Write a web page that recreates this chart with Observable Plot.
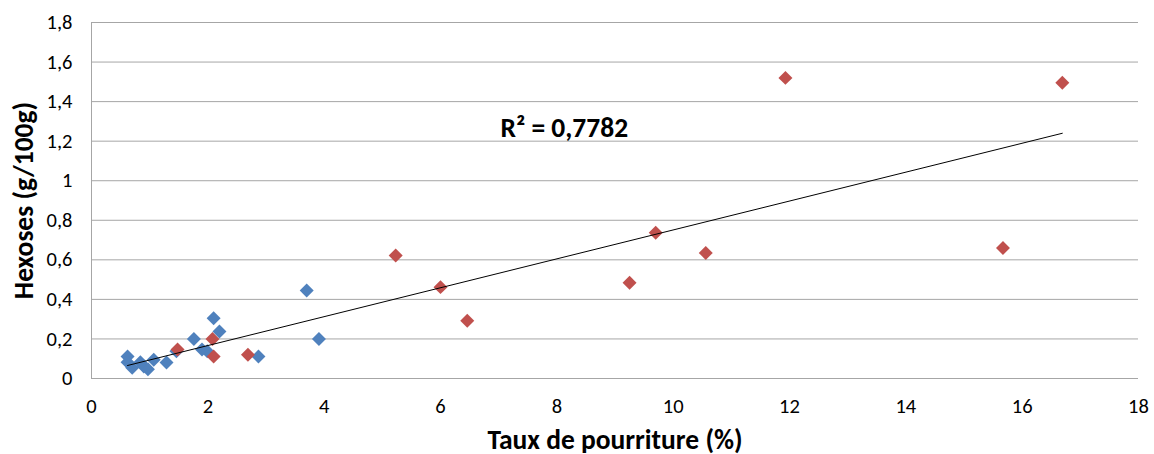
<!DOCTYPE html>
<html>
<head>
<meta charset="utf-8">
<script src="https://cdn.jsdelivr.net/npm/d3@7"></script>
<script src="https://cdn.jsdelivr.net/npm/@observablehq/plot@0.6"></script>
<style>
  html, body { margin: 0; padding: 0; background: #fff; }
  #chart { width: 1154px; height: 454px; }
</style>
</head>
<body>
<div id="chart"></div>
<script>
// Blue series (Taux de pourriture %, Hexoses g/100g)
const blueX = [0.62, 0.62, 0.70, 0.84, 0.90, 0.97, 1.07, 1.29, 1.46, 1.76, 1.90, 1.99, 2.10, 2.20, 2.87, 3.70, 3.91];
const blueY = [0.111, 0.082, 0.054, 0.082, 0.061, 0.047, 0.095, 0.081, 0.138, 0.200, 0.147, 0.138, 0.305, 0.238, 0.111, 0.445, 0.200];
// Red series
const redX = [1.48, 2.08, 2.10, 2.69, 5.23, 6.00, 6.46, 9.25, 9.70, 10.56, 11.93, 15.67, 16.69];
const redY = [0.147, 0.200, 0.111, 0.120, 0.622, 0.462, 0.292, 0.484, 0.737, 0.635, 1.520, 0.660, 1.495];

const xTicks = [0, 2, 4, 6, 8, 10, 12, 14, 16, 18];
const yTicks = [0, 0.2, 0.4, 0.6, 0.8, 1, 1.2, 1.4, 1.6, 1.8];
const r2Label = "R² = 0,7782";
const xLabel = "Taux de pourriture (%)";
const yLabel = "Hexoses (g/100g)";

const blue = blueX.map((x, i) => ({x, y: blueY[i]}));
const red = redX.map((x, i) => ({x, y: redY[i]}));
const all = blue.concat(red);

const fmt = d => String(d).replace(".", ",");
const font = "Carlito, 'Open Sans', sans-serif";

const chart = Plot.plot({
  width: 1154,
  height: 454,
  marginLeft: 91,
  marginRight: 16,
  marginTop: 22,
  marginBottom: 76,
  style: { fontFamily: font, fontSize: "20px", color: "#000", background: "#fff" },
  x: { domain: [0, 18] },
  y: { domain: [0, 1.8] },
  marks: [
    Plot.gridY(yTicks, { stroke: "#a6a6a6", strokeOpacity: 1, strokeWidth: 1 }),
    Plot.ruleX([0], { stroke: "#a6a6a6", strokeWidth: 1 }),
    Plot.axisY(yTicks, { tickSize: 0, tickPadding: 19, tickFormat: fmt, fontSize: 20.5, fill: "#000",
      label: yLabel, labelAnchor: "center", labelArrow: "none", labelOffset: 78 }),
    Plot.axisX(xTicks, { tickSize: 0, tickPadding: 20, tickFormat: fmt, fontSize: 20.5, fill: "#000",
      label: xLabel, labelAnchor: "center", labelArrow: "none", labelOffset: 70 }),
    Plot.dot(blue, { x: "x", y: "y", symbol: "diamond2", r: 6.3, fill: "#4F81BD", stroke: "none" }),
    Plot.dot(red, { x: "x", y: "y", symbol: "diamond2", r: 6.3, fill: "#C0504D", stroke: "none" }),
    Plot.linearRegressionY(all, { x: "x", y: "y", ci: 0, stroke: "#000", strokeWidth: 1 }),
    Plot.text([r2Label], { x: 7.03, y: 1.264, text: d => d, textAnchor: "start", fontSize: 27.5, fontWeight: "bold", fill: "#000" })
  ]
});

// style the axis labels bold and larger
chart.querySelectorAll("[aria-label='x-axis label'] text, [aria-label='y-axis label'] text").forEach(t => {
  t.setAttribute("font-weight", "bold");
  t.setAttribute("font-size", "27.5");
});
document.getElementById("chart").appendChild(chart);
</script>
</body>
</html>
